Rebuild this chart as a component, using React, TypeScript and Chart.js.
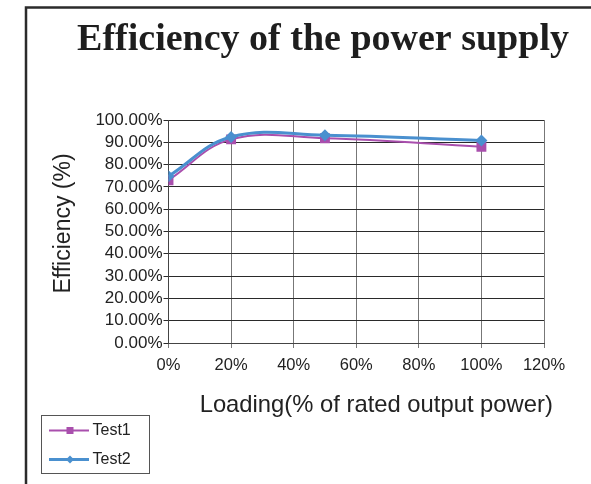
import React, { useEffect, useRef } from "react";
import { Chart, registerables } from "chart.js";

Chart.register(...registerables);

const chartTitle = "Efficiency of the power supply";
const xAxisTitle = "Loading(% of rated output power)";
const yAxisTitle = "Efficiency (%)";
const loading = [0, 20, 50, 100];
const test1 = [73.0, 91.3, 91.8, 88.0];
const test2 = [74.8, 92.4, 93.2, 90.8];
const xTicks = [0, 20, 40, 60, 80, 100, 120];
const yTicks = [0, 10, 20, 30, 40, 50, 60, 70, 80, 90, 100];
const seriesNames = ["Test1", "Test2"];
const seriesColors = ["#A94FAD", "#4A90CF"];

const SANS = "'Liberation Sans', Arial, sans-serif";
const SERIF = "'Liberation Serif', 'Times New Roman', serif";

const decor = {
  id: "decor",
  afterDraw(chart: any) {
    const ctx = chart.ctx;
    const W = chart.width;
    const H = chart.height;
    const area = chart.chartArea;
    ctx.save();
    // frame
    ctx.strokeStyle = "#2b2b2b";
    ctx.lineWidth = 2.5;
    ctx.beginPath();
    ctx.moveTo(26, H);
    ctx.lineTo(26, 7.5);
    ctx.lineTo(W, 7.5);
    ctx.stroke();
    // title
    ctx.fillStyle = "#1e1e1e";
    ctx.font = "bold 38px " + SERIF;
    ctx.textAlign = "center";
    ctx.textBaseline = "alphabetic";
    ctx.fillText(chartTitle, 323, 50);
    // axis titles
    ctx.fillStyle = "#222";
    ctx.font = "23.8px " + SANS;
    ctx.fillText(xAxisTitle, (area.left + area.right) / 2 + 20, 411.5);
    ctx.save();
    ctx.font = "23px " + SANS;
    ctx.translate(70, (area.top + area.bottom) / 2 - 8);
    ctx.rotate(-Math.PI / 2);
    ctx.fillText(yAxisTitle, 0, 0);
    ctx.restore();
    // legend
    const bx = 41, by = 415, bw = 108, bh = 58;
    ctx.strokeStyle = "#555";
    ctx.lineWidth = 1;
    ctx.strokeRect(bx + 0.5, by + 0.5, bw, bh);
    const ds = chart.data.datasets;
    const rows = [430.5, 459.5];
    ds.forEach((d: any, i: number) => {
      const y = rows[i];
      ctx.strokeStyle = d.borderColor;
      ctx.lineWidth = d.borderWidth;
      ctx.beginPath();
      ctx.moveTo(49, y);
      ctx.lineTo(89, y);
      ctx.stroke();
      ctx.fillStyle = d.borderColor;
      if (d.pointStyle === "rect") {
        ctx.fillRect(66.5, y - 3.5, 7, 7);
      } else {
        ctx.beginPath();
        ctx.moveTo(70, y - 4);
        ctx.lineTo(74, y);
        ctx.lineTo(70, y + 4);
        ctx.lineTo(66, y);
        ctx.closePath();
        ctx.fill();
      }
      ctx.fillStyle = "#222";
      ctx.font = "16px " + SANS;
      ctx.textAlign = "left";
      ctx.textBaseline = "middle";
      ctx.fillText(d.label, 92.5, y);
    });
    ctx.restore();
  },
};

export default function App() {
  const ref = useRef<HTMLCanvasElement>(null);
  useEffect(() => {
    if (!ref.current) return;
    const chart = new Chart(ref.current, {
      type: "line",
      data: {
        datasets: [
          {
            label: seriesNames[0],
            data: loading.map((x, i) => ({ x, y: test1[i] })),
            borderColor: seriesColors[0],
            backgroundColor: seriesColors[0],
            borderWidth: 2,
            pointStyle: "rect",
            pointRadius: 7,
            pointBorderWidth: 0,
            tension: 0.4,
            order: 1,
          },
          {
            label: seriesNames[1],
            data: loading.map((x, i) => ({ x, y: test2[i] })),
            borderColor: seriesColors[1],
            backgroundColor: seriesColors[1],
            borderWidth: 3,
            pointStyle: "rectRot",
            pointRadius: 6,
            pointBorderWidth: 0,
            tension: 0.4,
            order: 0,
          },
        ],
      },
      options: {
        animation: false,
        responsive: false,
        devicePixelRatio: 1,
        layout: { padding: { top: 120, right: 47, left: 0, bottom: 0 } },
        plugins: {
          legend: { display: false },
          title: { display: false },
          tooltip: { enabled: false },
        },
        scales: {
          x: {
            type: "linear",
            min: 0,
            max: 120,
            afterBuildTicks: (s: any) => {
              s.ticks = xTicks.map((v) => ({ value: v }));
            },
            afterFit: (s: any) => {
              s.height = 141;
            },
            ticks: {
              callback: (v: any) => v + "%",
              font: { family: SANS, size: 16.5 },
              color: "#222",
              padding: 8,
              maxRotation: 0,
              autoSkip: false,
            },
            grid: { color: "#777", tickLength: 5, lineWidth: 1 },
            border: { color: "#444", width: 1 },
          },
          y: {
            min: 0,
            max: 100,
            afterBuildTicks: (s: any) => {
              s.ticks = yTicks.map((v) => ({ value: v }));
            },
            afterFit: (s: any) => {
              s.width = 168.5;
            },
            ticks: {
              callback: (v: any) => Number(v).toFixed(2) + "%",
              font: { family: SANS, size: 17 },
              color: "#222",
              padding: 1,
              autoSkip: false,
            },
            grid: { color: "#2a2a2a", tickLength: 5, lineWidth: 1 },
            border: { color: "#444", width: 1 },
          },
        },
      },
      plugins: [decor],
    });
    return () => chart.destroy();
  }, []);
  return (
    <div style={{ position: "fixed", left: 0, top: 0, width: 591, height: 484, background: "#fff" }}>
      <canvas ref={ref} width={591} height={484} style={{ width: 591, height: 484, display: "block" }} />
    </div>
  );
}
